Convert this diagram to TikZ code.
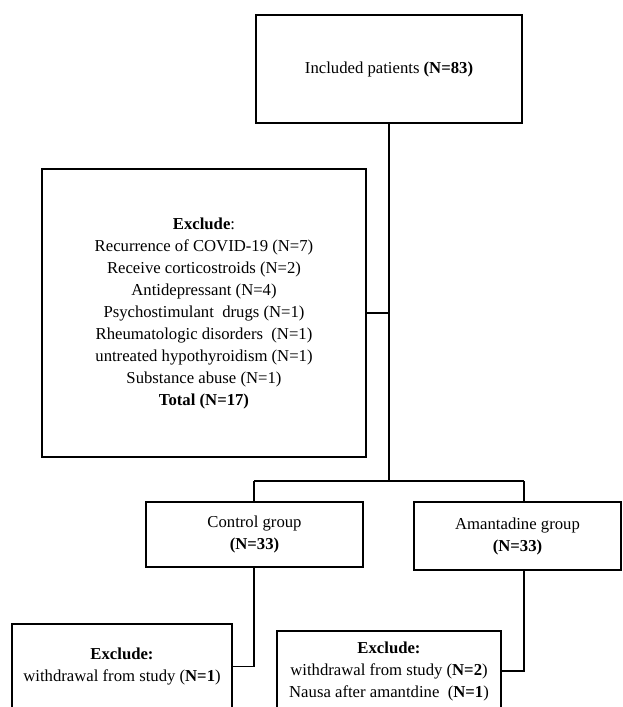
\documentclass[tikz,border=0pt]{standalone}
\usepackage{fontspec}
\setmainfont{Liberation Serif}
\begin{document}
\begin{tikzpicture}[x=1pt,y=-1pt,
  box/.style={draw=black,line width=1.3pt,rectangle,inner sep=0pt,align=center,
    font=\fontsize{16.7}{22}\selectfont},
  conn/.style={draw=black,line width=1.3pt}]
\useasboundingbox (0,0) rectangle (622,707);
\node[box,minimum width=266pt,minimum height=108pt] (top) at (389,69) {Included patients \textbf{(N=83)}};
\node[box,minimum width=324pt,minimum height=288pt] (exc) at (204,313)
  {\textbf{Exclude}:\\
   Recurrence of COVID-19 (N=7)\\
   Receive corticostroids (N=2)\\
   Antidepressant (N=4)\\
   Psychostimulant\ \ drugs (N=1)\\
   Rheumatologic disorders\ \ (N=1)\\
   untreated hypothyroidism (N=1)\\
   Substance abuse (N=1)\\
   \textbf{Total (N=17)}};
\node[box,minimum width=217pt,minimum height=65pt] (ctrl) at (254.5,534.5) {Control group\\\textbf{(N=33)}};
\node[box,minimum width=207pt,minimum height=68pt] (amant) at (517.5,536) {Amantadine group\\\textbf{(N=33)}};
\node[box,minimum width=220pt,minimum height=85pt] (excL) at (122,666.5) {\textbf{Exclude:}\\withdrawal from study (\textbf{N=1})};
\node[box,minimum width=224pt,minimum height=80pt] (excR) at (389,671) {\textbf{Exclude:}\\withdrawal from study (\textbf{N=2})\\Nausa after amantdine\ \ (\textbf{N=1})};
\coordinate (split) at (389,481);
\coordinate (dR) at (524,481);
\coordinate (dL) at (254,481);
\draw[conn] (top.south) -- (split);
\draw[conn] (exc.east) -- (exc.east -| split);
\draw[conn] (dL) -- (dR);
\draw[conn] (dL) -- (ctrl.north -| dL);
\draw[conn] (dR) -- (amant.north -| dR);
\draw[conn] (ctrl.south -| dL) |- (excL.east);
\draw[conn] (amant.south -| dR) |- (excR.east);
\end{tikzpicture}
\end{document}
